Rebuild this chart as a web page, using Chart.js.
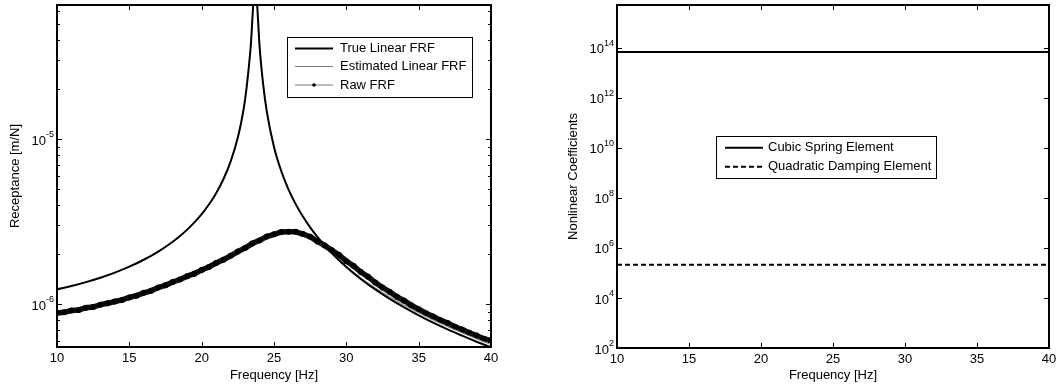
<!DOCTYPE html>
<html>
<head>
<meta charset="utf-8">
<script src="https://cdn.jsdelivr.net/npm/chart.js@4.4.1/dist/chart.umd.min.js"></script>
<style>
html, body { margin: 0; padding: 0; background: #fff; }
#wrap { position: relative; width: 1061px; height: 389px; overflow: hidden; }
#left { position: absolute; left: 0; top: 0; }
#right { position: absolute; left: 530px; top: 0; }
</style>
</head>
<body>
<div id="wrap">
  <canvas id="left" width="530" height="389"></canvas>
  <canvas id="right" width="531" height="389"></canvas>
</div>
<script>
const FONT = "'Liberation Sans', Arial, Helvetica, sans-serif";

// --- left panel: receptance ---
const freqLin = [10,11,12,13,14,15,16,17,18,18.5,19,19.5,20,20.5,21,21.5,22,22.5,22.75,23,23.25,23.4,23.55,23.7,23.85,24,24.25,24.5,25,25.5,26,26.5,27,27.5,28,29,30,31,32,33,34,35,36,37,38,39,40];
const trueFRF = [1.230e-6,1.289e-6,1.360e-6,1.446e-6,1.553e-6,1.687e-6,1.858e-6,2.082e-6,2.389e-6,2.588e-6,2.830e-6,3.130e-6,3.512e-6,4.015e-6,4.705e-6,5.711e-6,7.309e-6,1.024e-5,1.287e-5,1.737e-5,2.687e-5,3.74e-5,6.28e-5,1.011e-4,6.24e-5,3.69e-5,2.153e-5,1.473e-5,8.97e-6,6.41e-6,4.968e-6,4.040e-6,3.394e-6,2.919e-6,2.554e-6,2.033e-6,1.679e-6,1.422e-6,1.228e-6,1.077e-6,9.56e-7,8.56e-7,7.73e-7,7.03e-7,6.44e-7,5.92e-7,5.47e-7];
const estFRF = [1.230e-6,1.289e-6,1.360e-6,1.446e-6,1.553e-6,1.687e-6,1.858e-6,2.082e-6,2.389e-6,2.588e-6,2.830e-6,3.130e-6,3.512e-6,4.015e-6,4.705e-6,5.711e-6,7.309e-6,1.024e-5,1.287e-5,1.737e-5,2.687e-5,3.74e-5,6.28e-5,1.011e-4,6.24e-5,3.69e-5,2.153e-5,1.473e-5,8.97e-6,6.41e-6,4.968e-6,4.040e-6,3.394e-6,2.919e-6,2.554e-6,2.043e-6,1.695e-6,1.446e-6,1.256e-6,1.106e-6,9.85e-7,8.85e-7,8.01e-7,7.30e-7,6.70e-7,6.16e-7,5.69e-7];
const freqRaw = [10,10.5,11,11.5,12,12.5,13,13.5,14,14.5,15,15.5,16,16.5,17,17.5,18,18.5,19,19.5,20,20.5,21,21.5,22,22.5,23,23.5,24,24.5,25,25.5,26,26.5,27,27.5,28,28.5,29,29.5,30,30.5,31,31.5,32,32.5,33,33.5,34,34.5,35,35.5,36,36.5,37,37.5,38,38.5,39,39.5,40];
const rawFRF = [8.85e-7,8.92e-7,9.15e-7,9.22e-7,9.52e-7,9.60e-7,9.93e-7,1.012e-6,1.038e-6,1.061e-6,1.098e-6,1.126e-6,1.171e-6,1.205e-6,1.262e-6,1.301e-6,1.362e-6,1.410e-6,1.478e-6,1.531e-6,1.612e-6,1.681e-6,1.775e-6,1.860e-6,1.962e-6,2.083e-6,2.190e-6,2.330e-6,2.435e-6,2.570e-6,2.650e-6,2.735e-6,2.745e-6,2.742e-6,2.660e-6,2.560e-6,2.400e-6,2.270e-6,2.118e-6,1.985e-6,1.822e-6,1.705e-6,1.566e-6,1.468e-6,1.352e-6,1.262e-6,1.186e-6,1.108e-6,1.049e-6,9.83e-7,9.31e-7,8.82e-7,8.43e-7,8.00e-7,7.68e-7,7.30e-7,7.02e-7,6.70e-7,6.46e-7,6.18e-7,6.02e-7];

// --- right panel: nonlinear coefficients ---
const freqCoef = [10,15,20,25,30,35,40];
const cubicCoef = [6.6e13,6.6e13,6.6e13,6.6e13,6.6e13,6.6e13,6.6e13];
const quadCoef = [2.1e5,2.1e5,2.1e5,2.1e5,2.1e5,2.1e5,2.1e5];

// tick labels
const xTicks = [10,15,20,25,30,35,40];
const leftYExp = [-6,-5];
const rightYExp = [2,4,6,8,10,12,14];

const pts = (xs, ys) => xs.map((x, i) => ({x: x, y: ys[i]}));

// inward ticks, box, y labels with superscripts, legend
function framePlugin(cfg) {
  return {
    id: 'frame',
    afterDatasetsDraw(chart) {
      const ctx = chart.ctx, a = chart.chartArea;
      const x = chart.scales.x, y = chart.scales.y;
      ctx.save();
      ctx.strokeStyle = '#000';
      ctx.lineWidth = 1;
      ctx.beginPath();
      xTicks.forEach(v => {
        const px = Math.round(x.getPixelForValue(v)) + 0.5;
        ctx.moveTo(px, a.bottom); ctx.lineTo(px, a.bottom - 5);
        ctx.moveTo(px, a.top); ctx.lineTo(px, a.top + 5);
      });
      cfg.yExp.forEach(e => {
        const py = Math.round(y.getPixelForValue(Math.pow(10, e))) + 0.5;
        ctx.moveTo(a.left, py); ctx.lineTo(a.left + 5, py);
        ctx.moveTo(a.right, py); ctx.lineTo(a.right - 5, py);
      });
      if (cfg.minor) {
        for (let e = -7; e <= -4; e++) {
          for (let m = 2; m <= 9; m++) {
            const v = m * Math.pow(10, e);
            if (v <= y.min || v >= y.max) continue;
            const py = Math.round(y.getPixelForValue(v)) + 0.5;
            ctx.moveTo(a.left, py); ctx.lineTo(a.left + 3, py);
            ctx.moveTo(a.right, py); ctx.lineTo(a.right - 3, py);
          }
        }
      }
      ctx.stroke();
      ctx.lineWidth = 2;
      ctx.strokeRect(a.left, a.top, a.right - a.left, a.bottom - a.top);

      // y labels 10^e
      ctx.fillStyle = '#000';
      ctx.textAlign = 'left';
      cfg.yExp.forEach(e => {
        const py = y.getPixelForValue(Math.pow(10, e));
        const sup = String(e);
        ctx.font = '13px ' + FONT;
        const wb = ctx.measureText('10').width;
        ctx.font = '9px ' + FONT;
        const ws = ctx.measureText(sup).width;
        const r = a.left - 3;
        ctx.font = '13px ' + FONT;
        ctx.textBaseline = 'middle';
        ctx.fillText('10', r - ws - wb, py + 2);
        ctx.font = '9px ' + FONT;
        ctx.textBaseline = 'alphabetic';
        ctx.fillText(sup, r - ws, py - 2);
      });

      // legend
      const L = cfg.legend;
      ctx.fillStyle = '#fff';
      ctx.fillRect(L.x, L.y, L.w, L.h);
      ctx.lineWidth = 1;
      ctx.strokeStyle = '#000';
      ctx.strokeRect(L.x + 0.5, L.y + 0.5, L.w, L.h);
      ctx.font = '13px ' + FONT;
      ctx.textBaseline = 'middle';
      L.rows.forEach(row => {
        const ds = chart.data.datasets[row.ds];
        const st = row.style || {};
        ctx.save();
        ctx.strokeStyle = st.color || ds.borderColor;
        ctx.lineWidth = st.width || ds.borderWidth;
        ctx.setLineDash(ds.borderDash || []);
        ctx.beginPath();
        ctx.moveTo(L.x1, row.y); ctx.lineTo(L.x2, row.y);
        ctx.stroke();
        ctx.restore();
        if (st.dot) {
          ctx.beginPath();
          ctx.fillStyle = '#000';
          ctx.arc((L.x1 + L.x2) / 2, row.y, 1.8, 0, Math.PI * 2);
          ctx.fill();
        }
        ctx.fillStyle = '#000';
        ctx.fillText(ds.label, L.tx, row.y);
      });
      ctx.restore();
    }
  };
}

function xScale(h) {
  return {
    type: 'linear', min: 10, max: 40,
    afterFit(s) { s.height = h; },
    grid: { display: false, drawTicks: false },
    border: { display: false },
    ticks: { stepSize: 5, padding: 4, color: '#000', font: { family: FONT, size: 13 } },
    title: { display: true, text: 'Frequency [Hz]', color: '#000',
             font: { family: FONT, size: 13 }, padding: { top: 0, bottom: 5.5 } }
  };
}

function yScale(w, min, max, title, pad) {
  return {
    type: 'logarithmic', min: min, max: max,
    afterFit(s) { s.width = w; },
    grid: { display: false, drawTicks: false },
    border: { display: false },
    ticks: { display: false },
    title: { display: true, text: title, color: '#000',
             font: { family: FONT, size: 13 }, padding: { top: pad, bottom: 0 } }
  };
}

const base = {
  responsive: false,
  animation: false,
  events: [],
  plugins: { legend: { display: false }, tooltip: { enabled: false } }
};

new Chart(document.getElementById('left'), {
  type: 'line',
  data: {
    datasets: [
      { label: 'True Linear FRF', data: pts(freqLin, trueFRF), borderColor: '#000', borderWidth: 2,
        pointRadius: 0, cubicInterpolationMode: 'monotone', clip: 0 },
      { label: 'Estimated Linear FRF', data: pts(freqLin, estFRF), borderColor: '#7a7a7a', borderWidth: 1,
        pointRadius: 0, cubicInterpolationMode: 'monotone', clip: 0 },
      { label: 'Raw FRF', data: pts(freqRaw, rawFRF), borderColor: '#111', borderWidth: 5.5,
        pointRadius: 3, pointBackgroundColor: '#000', pointBorderWidth: 0, clip: 0 }
    ]
  },
  options: Object.assign({}, base, {
    layout: { padding: { left: 0, right: 39, top: 5, bottom: 0 } },
    scales: {
      x: xScale(42),
      y: yScale(57, 5.5e-7, 6.5e-5, 'Receptance [m/N]', 7.2)
    }
  }),
  plugins: [framePlugin({
    yExp: leftYExp, minor: true,
    legend: { x: 287, y: 37, w: 185, h: 60, x1: 295, x2: 333, tx: 340,
      rows: [ { ds: 0, y: 48.5 },
              { ds: 1, y: 66.5, style: { color: '#7a7a7a', width: 1 } },
              { ds: 2, y: 85, style: { color: '#7a7a7a', width: 1, dot: true } } ] }
  })]
});

new Chart(document.getElementById('right'), {
  type: 'line',
  data: {
    datasets: [
      { label: 'Cubic Spring Element', data: pts(freqCoef, cubicCoef), borderColor: '#000', borderWidth: 2,
        pointRadius: 0, clip: 0 },
      { label: 'Quadratic Damping Element', data: pts(freqCoef, quadCoef), borderColor: '#000', borderWidth: 2,
        borderDash: [5, 3], pointRadius: 0, clip: 0 }
    ]
  },
  options: Object.assign({}, base, {
    layout: { padding: { left: 0, right: 12, top: 5, bottom: 0 } },
    scales: {
      x: xScale(41),
      y: yScale(87, 1e2, 5e15, 'Nonlinear Coefficients', 35.7)
    }
  }),
  plugins: [framePlugin({
    yExp: rightYExp, minor: false,
    legend: { x: 186, y: 136, w: 220, h: 42, x1: 195, x2: 233, tx: 238,
      rows: [ { ds: 0, y: 147.7 }, { ds: 1, y: 166.7 } ] }
  })]
});
</script>
</body>
</html>
